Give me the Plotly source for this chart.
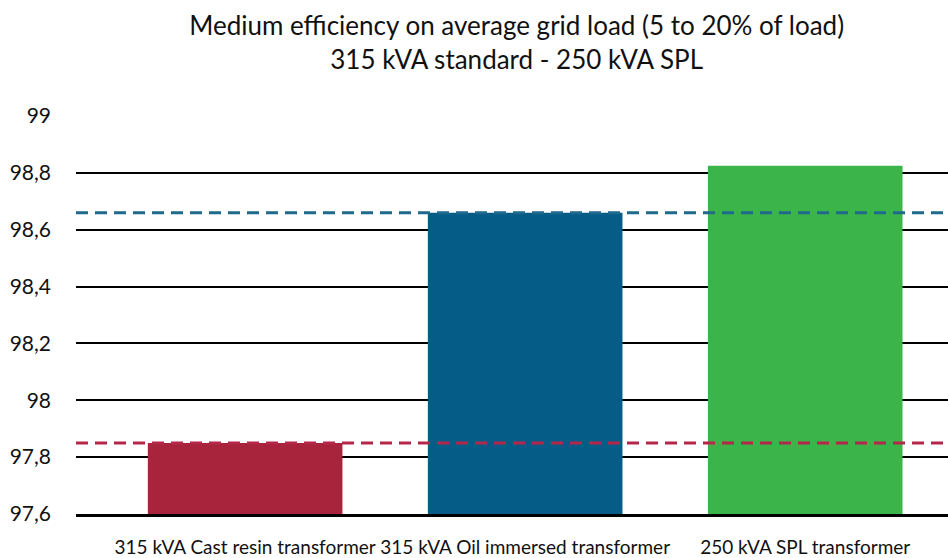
import plotly.graph_objects as go

categories = ["315 kVA Cast resin transformer", "315 kVA Oil immersed transformer", "250 kVA SPL transformer"]
efficiency = [97.85, 98.66, 98.825]
bar_colors = ["#A8233C", "#055D87", "#3BB54A"]
ref_values = [98.66, 97.85]
ref_colors = ["#1F6A8C", "#B5274A"]
y_ticks = [97.6, 97.8, 98.0, 98.2, 98.4, 98.6, 98.8, 99.0]

fig = go.Figure()
fig.add_trace(go.Bar(
    x=list(range(len(categories))), y=efficiency,
    marker=dict(color=bar_colors, line=dict(width=0)),
    width=0.695, showlegend=False,
))

for v, c in zip(ref_values, ref_colors):
    fig.add_shape(type="line", xref="paper", x0=0, x1=1, yref="y", y0=v, y1=v,
                  line=dict(color=c, width=3, dash="12px,7px"), layer="above")

fig.update_layout(
    width=948, height=558,
    margin=dict(l=76, r=0, t=116, b=44),
    paper_bgcolor="white", plot_bgcolor="white",
    separators=",.",
    font=dict(family="Lato", color="#111111"),
    title=dict(
        text="Medium efficiency on average grid load (5 to 20% of load)<br>315 kVA standard - 250 kVA SPL",
        x=0.545, xanchor="center", yref="container", y=1 - 35 / 558, yanchor="middle",
        font=dict(size=26, family="Lato", color="#111111"),
    ),
)
fig.update_xaxes(
    tickvals=list(range(len(categories))), ticktext=categories,
    range=[-0.604, 2.51], showgrid=False,
    showline=True, linecolor="black", linewidth=3,
    tickfont=dict(size=19, family="Lato", color="#111111"),
    ticks="", ticklabelstandoff=14, tickangle=0,
)
fig.update_yaxes(
    range=[97.6, 99.0], tickvals=y_ticks,
    showgrid=True, gridcolor="black", gridwidth=2,
    zeroline=False, showline=False,
    tickfont=dict(size=21, family="Lato", color="#111111"),
    ticklabelstandoff=24,
)
fig.write_html("out.html", config={"displayModeBar": False},
               post_script="document.body.style.margin='0';document.body.style.overflow='hidden';")
